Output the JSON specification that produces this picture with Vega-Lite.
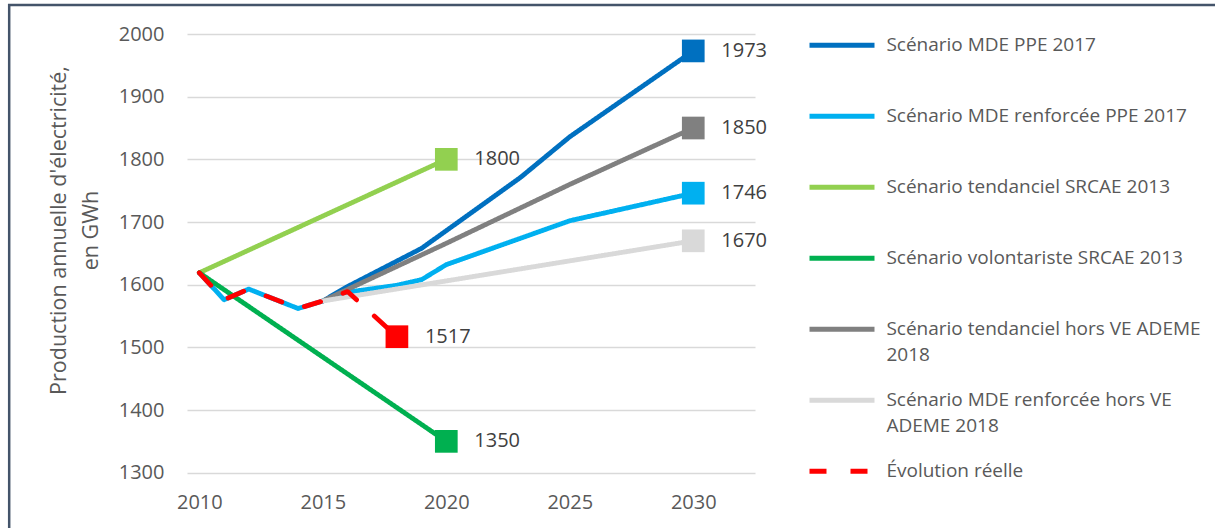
{
  "$schema": "https://vega.github.io/schema/vega-lite/v6.json",
  "width": 568,
  "height": 438.7,
  "autosize": {"type": "none"},
  "padding": {"left": 187, "top": 34, "right": 460, "bottom": 55.3},
  "background": "white",
  "config": {
    "view": {"stroke": null},
    "font": "Open Sans",
    "style": {"guide-label": {"lineHeight": 26}}
  },
  "datasets": {
    "lines": [
      {"series": "Scénario MDE PPE 2017", "year": 2015, "value": 1574},
      {"series": "Scénario MDE PPE 2017", "year": 2016, "value": 1597},
      {"series": "Scénario MDE PPE 2017", "year": 2019, "value": 1658},
      {"series": "Scénario MDE PPE 2017", "year": 2023, "value": 1771},
      {"series": "Scénario MDE PPE 2017", "year": 2025, "value": 1836},
      {"series": "Scénario MDE PPE 2017", "year": 2030, "value": 1973},
      {"series": "Scénario MDE renforcée PPE 2017", "year": 2010, "value": 1619},
      {"series": "Scénario MDE renforcée PPE 2017", "year": 2011, "value": 1576},
      {"series": "Scénario MDE renforcée PPE 2017", "year": 2012, "value": 1593},
      {"series": "Scénario MDE renforcée PPE 2017", "year": 2014, "value": 1562},
      {"series": "Scénario MDE renforcée PPE 2017", "year": 2015, "value": 1574},
      {"series": "Scénario MDE renforcée PPE 2017", "year": 2016, "value": 1588},
      {"series": "Scénario MDE renforcée PPE 2017", "year": 2018, "value": 1599},
      {"series": "Scénario MDE renforcée PPE 2017", "year": 2019, "value": 1608},
      {"series": "Scénario MDE renforcée PPE 2017", "year": 2020, "value": 1632},
      {"series": "Scénario MDE renforcée PPE 2017", "year": 2025, "value": 1702},
      {"series": "Scénario MDE renforcée PPE 2017", "year": 2030, "value": 1746},
      {"series": "Scénario tendanciel SRCAE 2013", "year": 2010, "value": 1619},
      {"series": "Scénario tendanciel SRCAE 2013", "year": 2020, "value": 1800},
      {"series": "Scénario volontariste SRCAE 2013", "year": 2010, "value": 1619},
      {"series": "Scénario volontariste SRCAE 2013", "year": 2020, "value": 1350},
      {"series": "Scénario tendanciel hors VE ADEME 2018", "year": 2015, "value": 1574},
      {"series": "Scénario tendanciel hors VE ADEME 2018", "year": 2020, "value": 1666},
      {"series": "Scénario tendanciel hors VE ADEME 2018", "year": 2025, "value": 1760},
      {"series": "Scénario tendanciel hors VE ADEME 2018", "year": 2030, "value": 1850},
      {"series": "Scénario MDE renforcée hors VE ADEME 2018", "year": 2015, "value": 1574},
      {"series": "Scénario MDE renforcée hors VE ADEME 2018", "year": 2030, "value": 1670},
      {"series": "Évolution réelle", "year": 2010, "value": 1619},
      {"series": "Évolution réelle", "year": 2011, "value": 1576},
      {"series": "Évolution réelle", "year": 2012, "value": 1593},
      {"series": "Évolution réelle", "year": 2014, "value": 1562},
      {"series": "Évolution réelle", "year": 2015, "value": 1574},
      {"series": "Évolution réelle", "year": 2016, "value": 1589},
      {"series": "Évolution réelle", "year": 2018, "value": 1517}
    ],
    "ends": [
      {"series": "Scénario MDE PPE 2017", "year": 2030, "value": 1973},
      {"series": "Scénario MDE renforcée PPE 2017", "year": 2030, "value": 1746},
      {"series": "Scénario tendanciel SRCAE 2013", "year": 2020, "value": 1800},
      {"series": "Scénario volontariste SRCAE 2013", "year": 2020, "value": 1350},
      {"series": "Scénario tendanciel hors VE ADEME 2018", "year": 2030, "value": 1850},
      {"series": "Scénario MDE renforcée hors VE ADEME 2018", "year": 2030, "value": 1670},
      {"series": "Évolution réelle", "year": 2018, "value": 1517}
    ]
  },
  "layer": [
    {
      "data": {"values": [{}]},
      "mark": {"type": "rect", "filled": false, "stroke": "#44546A", "strokeWidth": 2.5},
      "encoding": {
        "x": {"datum": 2002.3, "type": "quantitative", "scale": {"domain": [2009.5, 2032.5], "nice": false, "zero": false}},
        "x2": {"datum": 2060},
        "y": {"datum": 2046.3, "type": "quantitative", "scale": {"domain": [1300, 2000], "nice": false, "zero": false}},
        "y2": {"datum": 1000}
      }
    },
    {
      "data": {"name": "lines"},
      "mark": {"type": "line", "strokeWidth": 4.8, "strokeCap": "round", "strokeJoin": "round"},
      "encoding": {
        "x": {
          "field": "year", "type": "quantitative",
          "scale": {"domain": [2009.5, 2032.5], "nice": false, "zero": false},
          "axis": {"values": [2010, 2015, 2020, 2025, 2030], "format": "d", "grid": false, "domain": false, "ticks": false, "tickSize": 0, "labelPadding": 20, "labelFontSize": 20, "labelColor": "#595959", "title": null}
        },
        "y": {
          "field": "value", "type": "quantitative",
          "scale": {"domain": [1300, 2000], "nice": false, "zero": false},
          "axis": {
            "values": [1300, 1400, 1500, 1600, 1700, 1800, 1900, 2000], "format": "d",
            "grid": true, "gridColor": "#D9D9D9", "gridWidth": 1.5,
            "domain": false, "ticks": false, "tickSize": 0, "labelPadding": 23,
            "labelFontSize": 20, "labelColor": "#595959",
            "title": ["Production annuelle d'électricité,", "en GWh"],
            "titleFontSize": 21.5, "titleFontWeight": "normal", "titleColor": "#595959",
            "titleX": -122, "titleY": 196, "titleAngle": 270, "titleAlign": "center",
            "titleBaseline": "alphabetic", "titleLineHeight": 32
          }
        },
        "color": {
          "field": "series", "type": "nominal",
          "scale": {
            "domain": ["Scénario MDE PPE 2017", "Scénario MDE renforcée PPE 2017", "Scénario tendanciel SRCAE 2013", "Scénario volontariste SRCAE 2013", "Scénario tendanciel hors VE ADEME 2018", "Scénario MDE renforcée hors VE ADEME 2018", "Évolution réelle"],
            "range": ["#0070C0", "#00B0F0", "#92D050", "#00B050", "#808080", "#D9D9D9", "#FF0000"]
          },
          "legend": {
            "title": null, "orient": "none", "legendX": 620, "legendY": -23.8,
            "symbolType": "stroke", "symbolSize": 4225, "symbolStrokeWidth": 5,
            "labelFontSize": 19, "labelColor": "#595959", "labelOffset": 9.4, "labelLimit": 500,
            "rowPadding": 0, "padding": 0, "gridAlign": "all",
            "labelExpr": "datum.label === 'Scénario tendanciel hors VE ADEME 2018' ? ['Scénario tendanciel hors VE ADEME', '2018'] : datum.label === 'Scénario MDE renforcée hors VE ADEME 2018' ? ['Scénario MDE renforcée hors VE', 'ADEME 2018'] : datum.label"
          }
        },
        "strokeDash": {
          "field": "series", "type": "nominal",
          "scale": {
            "domain": ["Scénario MDE PPE 2017", "Scénario MDE renforcée PPE 2017", "Scénario tendanciel SRCAE 2013", "Scénario volontariste SRCAE 2013", "Scénario tendanciel hors VE ADEME 2018", "Scénario MDE renforcée hors VE ADEME 2018", "Évolution réelle"],
            "range": [[1, 0], [1, 0], [1, 0], [1, 0], [1, 0], [1, 0], [17, 24]]
          },
          "legend": {
            "title": null, "orient": "none", "legendX": 620, "legendY": -23.8,
            "symbolType": "stroke", "symbolSize": 4225, "symbolStrokeWidth": 5,
            "labelFontSize": 19, "labelColor": "#595959", "labelOffset": 9.4, "labelLimit": 500,
            "rowPadding": 0, "padding": 0, "gridAlign": "all",
            "labelExpr": "datum.label === 'Scénario tendanciel hors VE ADEME 2018' ? ['Scénario tendanciel hors VE ADEME', '2018'] : datum.label === 'Scénario MDE renforcée hors VE ADEME 2018' ? ['Scénario MDE renforcée hors VE', 'ADEME 2018'] : datum.label"
          }
        }
      }
    },
    {
      "data": {"name": "ends"},
      "mark": {"type": "point", "shape": "square", "filled": true, "size": 515, "opacity": 1},
      "encoding": {
        "x": {"field": "year", "type": "quantitative"},
        "y": {"field": "value", "type": "quantitative"},
        "color": {"field": "series", "type": "nominal", "legend": null}
      }
    },
    {
      "data": {"name": "ends"},
      "mark": {"type": "text", "align": "left", "baseline": "middle", "dx": 28, "fontSize": 20, "color": "#404040"},
      "encoding": {
        "x": {"field": "year", "type": "quantitative"},
        "y": {"field": "value", "type": "quantitative"},
        "text": {"field": "value", "type": "quantitative", "format": "d"}
      }
    }
  ]
}
